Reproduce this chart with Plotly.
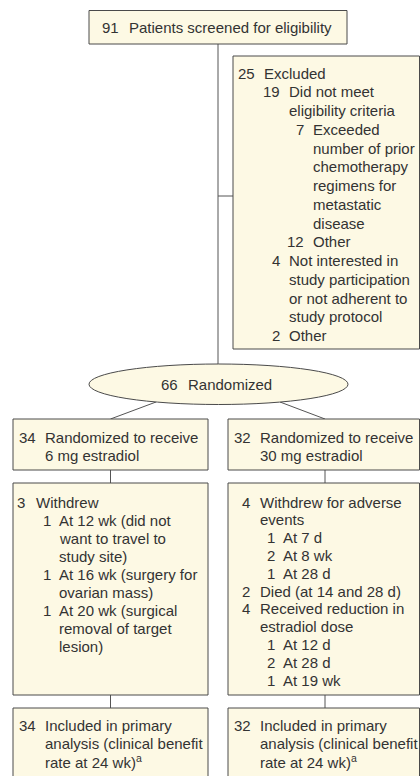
import plotly.graph_objects as go

# ---------------- data ----------------
screened_n = 91
screened_label = "Patients screened for eligibility"

excluded_counts = [25, 19, 7, 12, 4, 2]
excluded_labels = [
    ["Excluded"],
    ["Did not meet", "eligibility criteria"],
    ["Exceeded", "number of prior", "chemotherapy", "regimens for", "metastatic", "disease"],
    ["Other"],
    ["Not interested in", "study participation", "or not adherent to", "study protocol"],
    ["Other"],
]
excluded_levels = [0, 1, 2, 2, 1, 1]

randomized_n = 66
randomized_label = "Randomized"

arm_n = [34, 32]
arm_labels = [
    ["Randomized to receive", "6 mg estradiol"],
    ["Randomized to receive", "30 mg estradiol"],
]

low_counts = [3, 1, 1, 1]
low_labels = [
    ["Withdrew"],
    ["At 12 wk (did not", "want to travel to", "study site)"],
    ["At 16 wk (surgery for", "ovarian mass)"],
    ["At 20 wk (surgical", "removal of target", "lesion)"],
]
low_levels = [0, 1, 1, 1]

high_counts = [4, 1, 2, 1, 2, 4, 1, 2, 1]
high_labels = [
    ["Withdrew for adverse", "events"],
    ["At 7 d"],
    ["At 8 wk"],
    ["At 28 d"],
    ["Died (at 14 and 28 d)"],
    ["Received reduction in", "estradiol dose"],
    ["At 12 d"],
    ["At 28 d"],
    ["At 19 wk"],
]
high_levels = [0, 1, 1, 1, 0, 0, 1, 1, 1]

analysis_n = [34, 32]
analysis_labels = [
    ["Included in primary", "analysis (clinical benefit", "rate at 24 wk)<sup>a</sup>"],
    ["Included in primary", "analysis (clinical benefit", "rate at 24 wk)<sup>a</sup>"],
]

# ---------------- style ----------------
W, H = 420, 776
FONT = "Liberation Sans, Arial, Helvetica, sans-serif"
FS = 15
TXT = "#333333"
FILL = "#fdf9e4"
EDGE = "#4a4a4a"
LINE = "#555555"

shapes = []
annots = []


def rect(x0, y0, x1, y1):
    shapes.append(dict(type="rect", xref="x", yref="y", x0=x0, y0=y0, x1=x1, y1=y1,
                       fillcolor=FILL, line=dict(color=EDGE, width=1), layer="above"))


def seg(x0, y0, x1, y1):
    shapes.append(dict(type="line", xref="x", yref="y", x0=x0, y0=y0, x1=x1, y1=y1,
                       line=dict(color=LINE, width=1), layer="below"))


def txt(x, y, s, anchor="left"):
    annots.append(dict(x=x, y=y, xref="x", yref="y", text=s, showarrow=False,
                       xanchor=anchor, yanchor="middle", borderpad=0,
                       font=dict(family=FONT, size=FS, color=TXT)))


def block(counts, labels, levels, text0, indent, y0, dy, gap=7, gap0=None):
    y = y0
    for c, lines, lv in zip(counts, labels, levels):
        tx = text0 + lv * indent
        g = gap0 if (gap0 is not None and lv == 0) else gap
        txt(tx - g, y, str(c), "right")
        for ln in lines:
            txt(tx, y, ln)
            y += dy


# ---------------- connectors ----------------
cx = 218
seg(cx, 44, cx, 366)
seg(cx, 196, 233, 196)
lc, rc = 110.5, 325
seg(156, 402, lc, 419)
seg(280, 402, rc, 419)
seg(lc, 470, lc, 483)
seg(rc, 470, rc, 483)
seg(lc, 695, lc, 708)
seg(rc, 695, rc, 708)

# ---------------- boxes ----------------
rect(89, 10.5, 347, 44)
txt(119.5, 27.5, str(screened_n), "right")
txt(128, 27.5, screened_label)

rect(233, 56, 419.5, 349)
block(excluded_counts, excluded_labels, excluded_levels, 263, 24.5, 73, 18.75)

shapes.append(dict(type="circle", xref="x", yref="y", x0=89, y0=364, x1=348, y1=404.5,
                   fillcolor=FILL, line=dict(color=EDGE, width=1), layer="above"))
txt(179, 384.5, str(randomized_n), "right")
txt(187, 384.5, randomized_label)

left_x, right_x = (13, 208), (228, 419.5)
text_x = [44, 258.5]
for i, (bx0, bx1) in enumerate([left_x, right_x]):
    rect(bx0, 419, bx1, 470)
    block([arm_n[i]], [arm_labels[i]], [0], text_x[i], 0, 437, 18)
    rect(bx0, 483, bx1, 695)
    rect(bx0, 708, bx1, 800)
    block([analysis_n[i]], [analysis_labels[i]], [0], text_x[i], 0, 725.5, 18)

block(low_counts, low_labels, low_levels, 35, 23, 502, 18.1, gap=6, gap0=9)
block(high_counts, high_labels, high_levels, 259, 23, 502, 17.8, gap=6, gap0=8)

fig = go.Figure()
fig.update_layout(
    width=W, height=H,
    margin=dict(l=0, r=0, t=0, b=0),
    paper_bgcolor="white", plot_bgcolor="white",
    xaxis=dict(range=[0, W], visible=False, fixedrange=True),
    yaxis=dict(range=[H, 0], visible=False, fixedrange=True),
    shapes=shapes, annotations=annots, showlegend=False,
)
fig.write_html(
    "out.html",
    config={"displayModeBar": False},
    post_script="document.body.style.margin='0';document.body.style.padding='0';"
                "document.body.style.overflow='hidden';",
)
